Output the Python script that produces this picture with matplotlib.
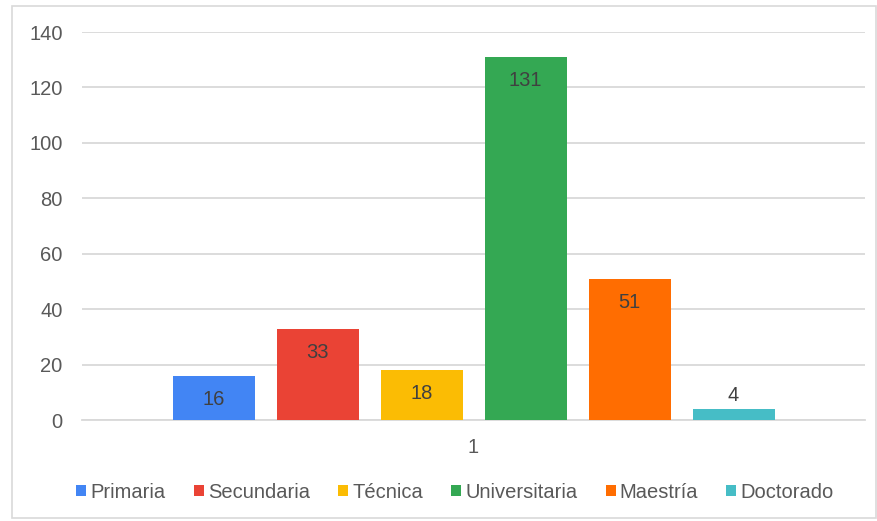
import matplotlib
matplotlib.use("Agg")
import matplotlib.pyplot as plt
from matplotlib.patches import Rectangle

plt.rcParams['font.family'] = ['Liberation Sans', 'DejaVu Sans']

series = ["Primaria", "Secundaria", "Técnica", "Universitaria", "Maestría", "Doctorado"]
values = [16, 33, 18, 131, 51, 4]
colors = ["#4285F4", "#EA4335", "#FBBC04", "#34A853", "#FF6D01", "#46BDC6"]
category = ["1"]
yticks = [0, 20, 40, 60, 80, 100, 120, 140]

fig = plt.figure(figsize=(8.78, 5.21), dpi=100)
fig.patches.append(Rectangle((12/878, 3/521), 864/878, 512/521, transform=fig.transFigure,
                             fill=False, edgecolor="#D9D9D9", linewidth=1.2))
ax = fig.add_axes([82/878, 1-420/521, 783/878, 388/521])

step = 104/783
width = 82/783
n = len(series)
handles = []
for i, (s, v, c) in enumerate(zip(series, values, colors)):
    x = 0 + (i - (n-1)/2) * step
    b = ax.bar(x, v, width=width, color=c, label=s, zorder=3)
    handles.append(b)
    if v > 10:
        ax.text(x, v - 8.6, str(v), ha="center", va="center", fontsize=14.5, color="#404040", zorder=4)
    else:
        ax.text(x, v + 4.8, str(v), ha="center", va="center", fontsize=14.5, color="#404040", zorder=4)

ax.set_xlim(-0.5, 0.5)
ax.set_ylim(0, 140)
ax.set_yticks(yticks)
ax.set_xticks([0])
ax.set_xticklabels(category)
ax.yaxis.grid(True, color="#D9D9D9", linewidth=1.3, zorder=0)
ax.set_axisbelow(True)
for sp in ["top", "right", "left"]:
    ax.spines[sp].set_visible(False)
ax.spines["bottom"].set_color("#D9D9D9")
ax.spines["bottom"].set_linewidth(1.3)
ax.tick_params(axis="both", length=0, labelsize=14.5, labelcolor="#595959")
ax.tick_params(axis="y", pad=14)
ax.tick_params(axis="x", pad=13)

fig.legend(handles=handles, labels=series, loc="center", bbox_to_anchor=(455/878, 1-492/521),
           ncol=6, frameon=False, fontsize=14.5, handlelength=0.5, handleheight=0.5,
           handletextpad=0.2, columnspacing=1.4, labelcolor="#595959")

fig.savefig("out.png", dpi=100)
